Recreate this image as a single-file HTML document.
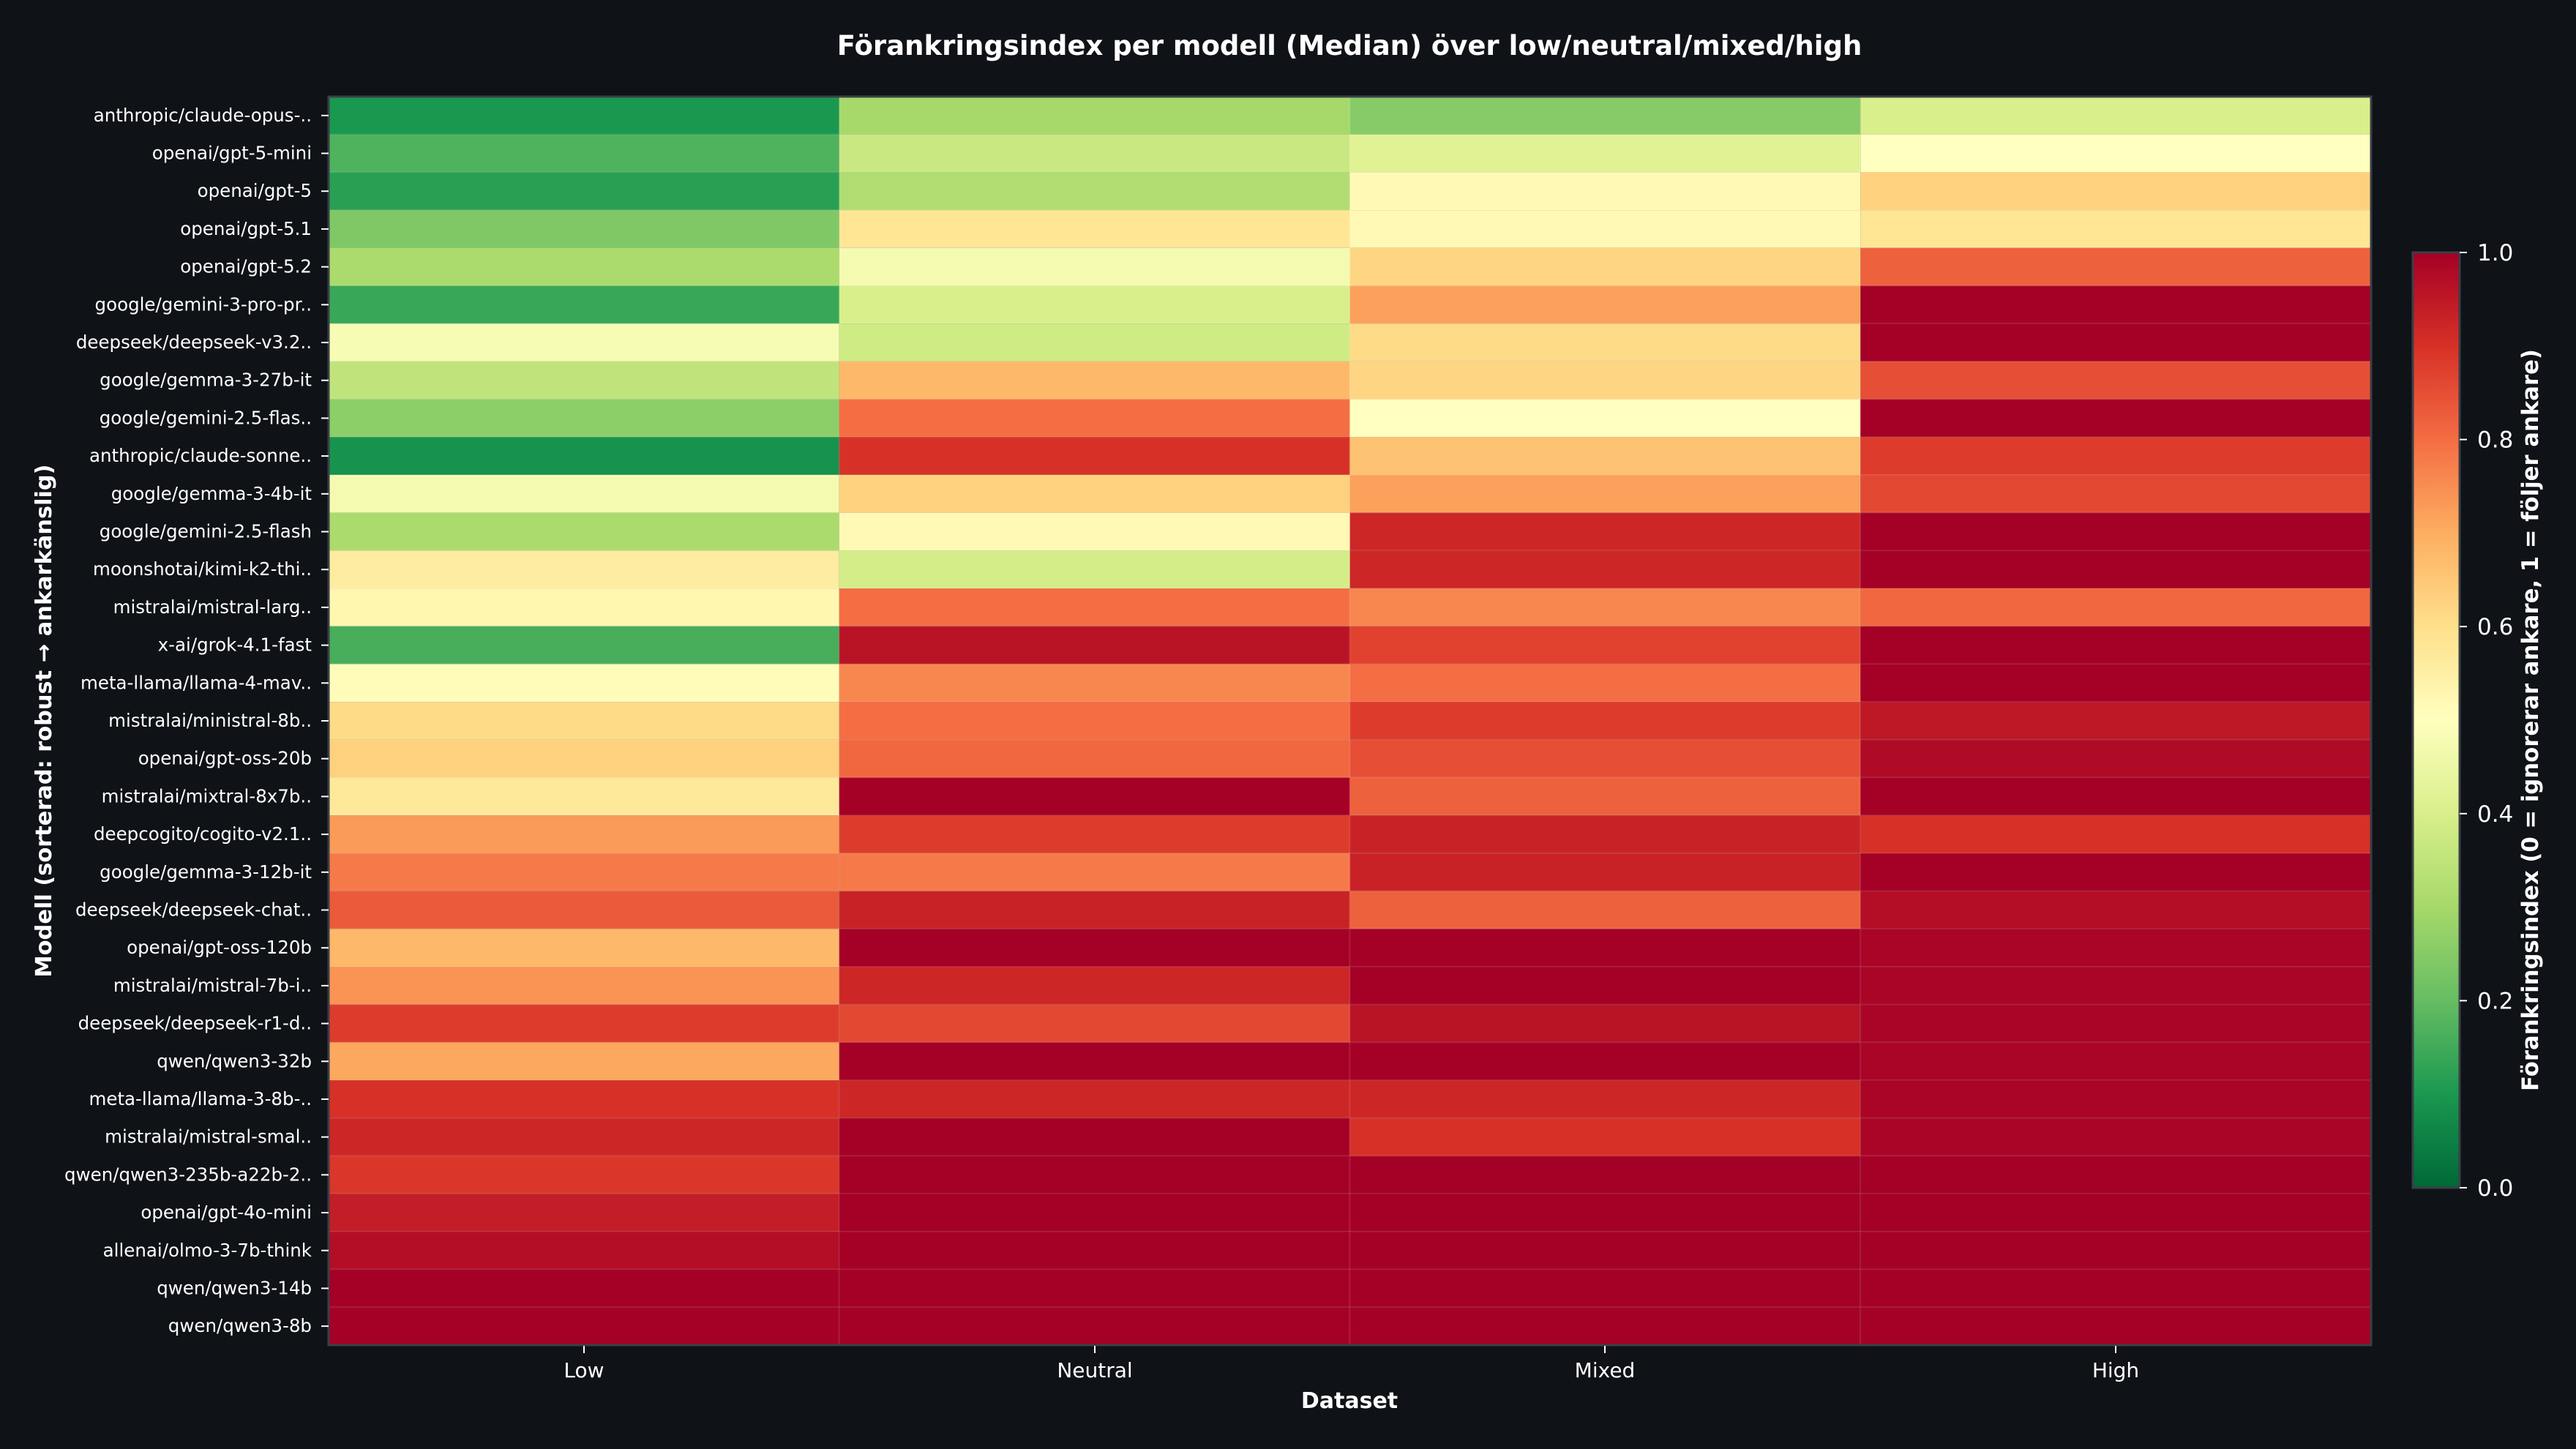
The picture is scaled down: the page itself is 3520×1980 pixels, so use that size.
<!DOCTYPE html>
<html><head><meta charset="utf-8"><style>
html,body{margin:0;padding:0;background:#0f1217;}
svg{display:block;}
text{font-family:"DejaVu Sans","Liberation Sans",sans-serif;fill:#ffffff;}
</style></head><body>
<svg id="s" width="3520" height="1980" xmlns="http://www.w3.org/2000/svg">
<rect width="3520" height="1980" fill="#0f1217"/>
<defs><linearGradient id="cb" x1="0" y1="1" x2="0" y2="0">
<stop offset="0" stop-color="#006837"/><stop offset="0.1" stop-color="#1a9850"/><stop offset="0.2" stop-color="#66bd63"/><stop offset="0.3" stop-color="#a6d96a"/><stop offset="0.4" stop-color="#d9ef8b"/><stop offset="0.5" stop-color="#ffffbf"/><stop offset="0.6" stop-color="#fee08b"/><stop offset="0.7" stop-color="#fdae61"/><stop offset="0.8" stop-color="#f46d43"/><stop offset="0.9" stop-color="#d73027"/><stop offset="1" stop-color="#a50026"/>
</linearGradient></defs>
<g id="cells"></g>
<rect x="449" y="132" width="2791" height="1706" fill="none" stroke="#3a3f47" stroke-width="3"/>
<text x="1844" y="75" font-size="37" font-weight="bold" text-anchor="middle">Förankringsindex per modell (Median) över low/neutral/mixed/high</text>
<text transform="translate(70,985) rotate(-90)" font-size="30.4" font-weight="bold" text-anchor="middle">Modell (sorterad: robust → ankarkänslig)</text>
<text x="1844" y="1924" font-size="30" font-weight="bold" text-anchor="middle">Dataset</text>
<g font-size="28" text-anchor="middle">
<text x="798" y="1882">Low</text><text x="1496" y="1882">Neutral</text><text x="2193" y="1882">Mixed</text><text x="2891" y="1882">High</text>
</g>
<g stroke="#ffffff" stroke-width="2">
<line x1="798" y1="1839" x2="798" y2="1849"/><line x1="1496" y1="1839" x2="1496" y2="1849"/><line x1="2193" y1="1839" x2="2193" y2="1849"/><line x1="2891" y1="1839" x2="2891" y2="1849"/>
</g>
<rect x="3297" y="345" width="64" height="1278" fill="url(#cb)" stroke="#3a3f47" stroke-width="3"/>
<g id="cbt" font-size="31"></g>
<text transform="translate(3468,984) rotate(-90)" font-size="30.7" font-weight="bold" text-anchor="middle">Förankringsindex (0 = ignorerar ankare, 1 = följer ankare)</text>
<g id="ylab" font-size="24.5" text-anchor="end"></g>
</svg>
<script>
var names=["anthropic/claude-opus-..","openai/gpt-5-mini","openai/gpt-5","openai/gpt-5.1","openai/gpt-5.2","google/gemini-3-pro-pr..","deepseek/deepseek-v3.2..","google/gemma-3-27b-it","google/gemini-2.5-flas..","anthropic/claude-sonne..","google/gemma-3-4b-it","google/gemini-2.5-flash","moonshotai/kimi-k2-thi..","mistralai/mistral-larg..","x-ai/grok-4.1-fast","meta-llama/llama-4-mav..","mistralai/ministral-8b..","openai/gpt-oss-20b","mistralai/mixtral-8x7b..","deepcogito/cogito-v2.1..","google/gemma-3-12b-it","deepseek/deepseek-chat..","openai/gpt-oss-120b","mistralai/mistral-7b-i..","deepseek/deepseek-r1-d..","qwen/qwen3-32b","meta-llama/llama-3-8b-..","mistralai/mistral-smal..","qwen/qwen3-235b-a22b-2..","openai/gpt-4o-mini","allenai/olmo-3-7b-think","qwen/qwen3-14b","qwen/qwen3-8b"];
var v=[[0.1,0.3,0.25,0.4],[0.17,0.37,0.42,0.5],[0.12,0.32,0.52,0.63],[0.24,0.58,0.52,0.58],[0.31,0.47,0.62,0.82],[0.14,0.4,0.72,1],[0.48,0.38,0.61,1],[0.35,0.68,0.62,0.85],[0.26,0.8,0.5,1],[0.09,0.9,0.66,0.88],[0.47,0.63,0.72,0.86],[0.31,0.52,0.92,1],[0.56,0.39,0.92,1],[0.53,0.8,0.76,0.81],[0.16,0.96,0.87,1],[0.51,0.76,0.8,1],[0.61,0.8,0.88,0.95],[0.63,0.81,0.85,0.98],[0.57,1,0.82,1],[0.73,0.88,0.93,0.9],[0.78,0.78,0.93,1],[0.83,0.93,0.82,0.97],[0.68,1,1,0.99],[0.74,0.92,1,0.99],[0.88,0.86,0.96,0.99],[0.71,1,1,0.99],[0.9,0.92,0.92,0.99],[0.92,1,0.9,0.99],[0.89,1,1,1],[0.94,1,1,1],[0.97,1,1,1],[1,1,1,1],[1,1,1,1]];
var st=["#a50026","#d73027","#f46d43","#fdae61","#fee08b","#ffffbf","#d9ef8b","#a6d96a","#66bd63","#1a9850","#006837"];
function h(c){return [parseInt(c.substr(1,2),16),parseInt(c.substr(3,2),16),parseInt(c.substr(5,2),16)];}
function col(x){var t=(1-x)*10;var i=Math.min(9,Math.floor(t));var f=t-i;var a=h(st[i]),b=h(st[i+1]);return "rgb("+a.map(function(q,k){return Math.round(q+(b[k]-q)*f);}).join(",")+")";}
var ns="http://www.w3.org/2000/svg",g=document.getElementById("cells"),yl=document.getElementById("ylab");
var L=449,T=132,W=2791/4,H=1706/33;
for(var r=0;r<33;r++){for(var c=0;c<4;c++){var e=document.createElementNS(ns,"rect");e.setAttribute("x",L+c*W);e.setAttribute("y",T+r*H);e.setAttribute("width",W);e.setAttribute("height",H);e.setAttribute("fill",col(v[r][c]));e.setAttribute("stroke","rgba(255,255,255,0.08)");e.setAttribute("stroke-width","2");g.appendChild(e);}
var y=T+(r+0.5)*H;var t=document.createElementNS(ns,"text");t.setAttribute("x",426);t.setAttribute("y",y+8);t.textContent=names[r];yl.appendChild(t);
var l=document.createElementNS(ns,"line");l.setAttribute("x1",439);l.setAttribute("x2",449);l.setAttribute("y1",y);l.setAttribute("y2",y);l.setAttribute("stroke","#fff");l.setAttribute("stroke-width","2");yl.appendChild(l);}
var cb=document.getElementById("cbt");
for(var k=0;k<=5;k++){var y=1623-k*0.2*1278;var t=document.createElementNS(ns,"text");t.setAttribute("x",3385);t.setAttribute("y",y+11);t.textContent=(k*0.2).toFixed(1);cb.appendChild(t);
var l=document.createElementNS(ns,"line");l.setAttribute("x1",3361);l.setAttribute("x2",3371);l.setAttribute("y1",y);l.setAttribute("y2",y);l.setAttribute("stroke","#fff");l.setAttribute("stroke-width","2");cb.appendChild(l);}
</script>
</body></html>
